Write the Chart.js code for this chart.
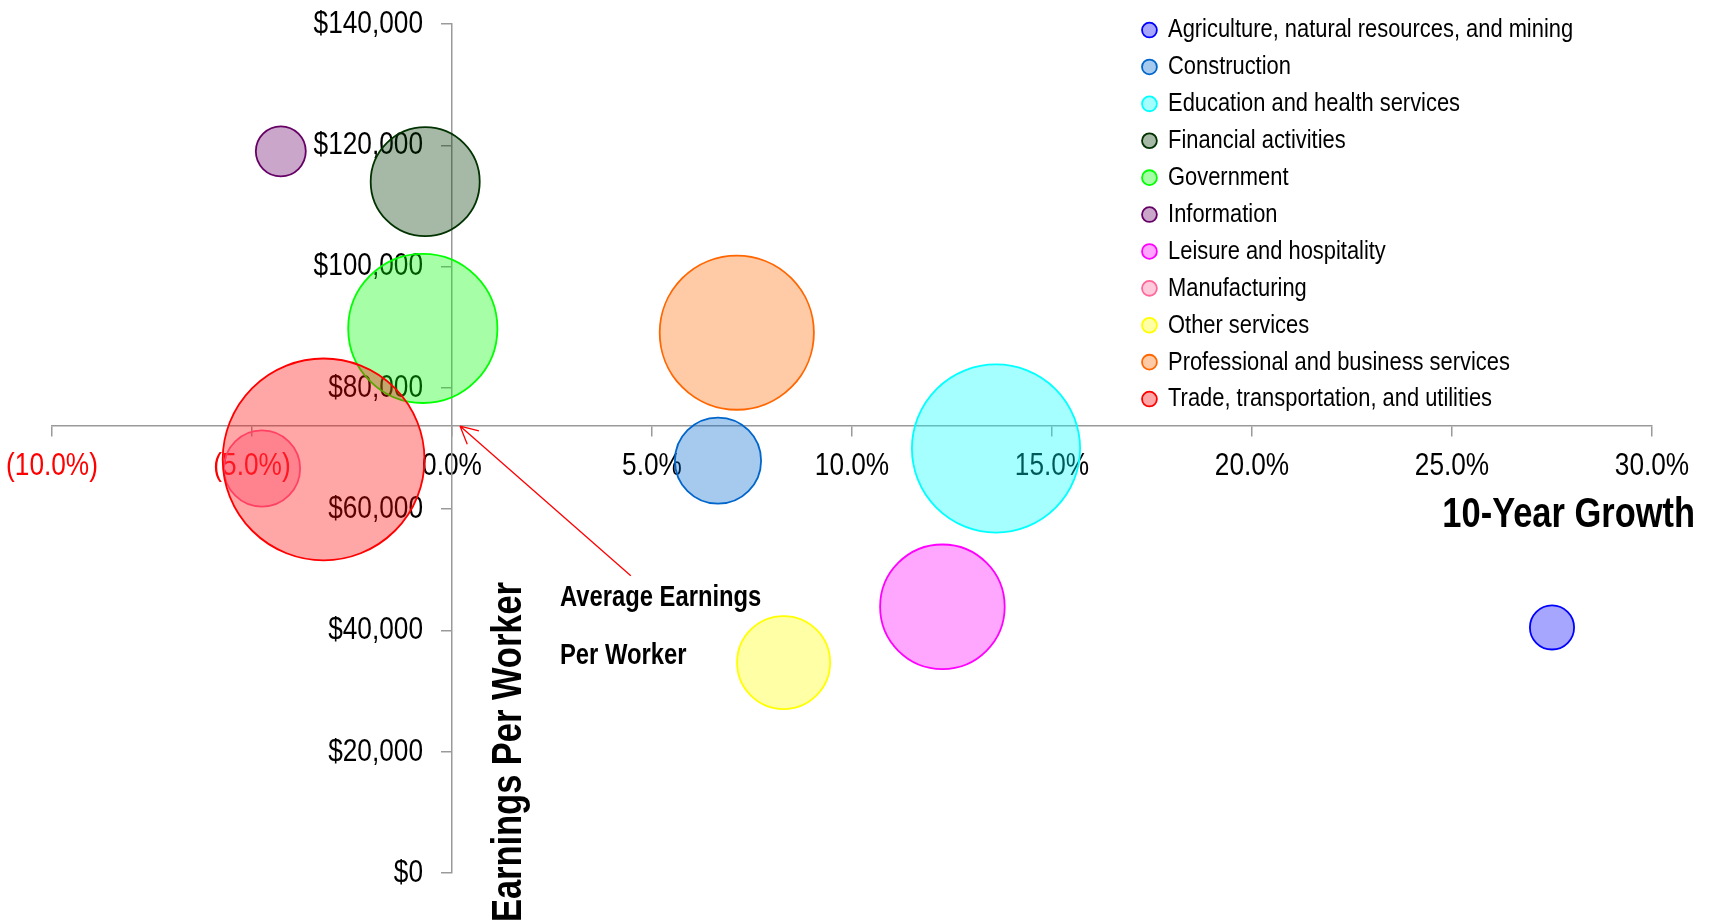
<!DOCTYPE html>
<html>
<head>
<meta charset="utf-8">
<script src="https://cdn.jsdelivr.net/npm/chart.js@4.4.0/dist/chart.umd.min.js"></script>
<style>
  html, body { margin: 0; padding: 0; background: #fff; overflow: hidden; }
  #wrap { width: 1711px; height: 920px; }
</style>
</head>
<body>
<div id="wrap"><canvas id="bubbleChart"></canvas></div>
<script>
// industries, 10-year growth (%), earnings per worker ($), employment (thousands, bubble size)
const industries = [
  'Agriculture, natural resources, and mining',
  'Construction',
  'Education and health services',
  'Financial activities',
  'Government',
  'Information',
  'Leisure and hospitality',
  'Manufacturing',
  'Other services',
  'Professional and business services',
  'Trade, transportation, and utilities'
];
const growth = [27.5, 6.65, 13.6, -0.67, -0.73, -4.28, 12.26, -4.75, 8.29, 7.12, -3.21];
const earnings = [40500, 68000, 70000, 114000, 89800, 119000, 43900, 66700, 34700, 89100, 68200];
const employment = [122, 464, 1768, 743, 1391, 156, 970, 363, 541, 1486, 2545];
const avgEarnings = 73700;

const xTicks = [-10, -5, 0, 5, 10, 15, 20, 25, 30];
const yTicks = [0, 20000, 40000, 60000, 80000, 100000, 120000, 140000];

const lineColors = ['#0000FF', '#0066CC', '#00FFFF', '#003300', '#00FF00', '#660066',
                    '#FF00FF', '#FF6699', '#FFFF00', '#FF6600', '#FF0000'];

const FONT = '"Liberation Sans", Arial, sans-serif';

// the original uses a narrow face; squeeze Liberation Sans to Arial Narrow proportions
const NARROW = 0.82;
const proto = CanvasRenderingContext2D.prototype;
const baseFill = proto.fillText;
const baseMeasure = proto.measureText;
proto.fillText = function (text, x, y, maxWidth) {
  this.save();
  this.translate(x, y);
  this.scale(NARROW, 1);
  if (maxWidth === undefined) baseFill.call(this, text, 0, 0);
  else baseFill.call(this, text, 0, 0, maxWidth / NARROW);
  this.restore();
};
proto.measureText = function (text) {
  const m = baseMeasure.call(this, text);
  return {
    width: m.width * NARROW,
    actualBoundingBoxLeft: m.actualBoundingBoxLeft * NARROW,
    actualBoundingBoxRight: m.actualBoundingBoxRight * NARROW,
    actualBoundingBoxAscent: m.actualBoundingBoxAscent,
    actualBoundingBoxDescent: m.actualBoundingBoxDescent,
    fontBoundingBoxAscent: m.fontBoundingBoxAscent,
    fontBoundingBoxDescent: m.fontBoundingBoxDescent
  };
};

const tint = (hex, a) => {
  const n = parseInt(hex.slice(1), 16);
  return `rgba(${n >> 16}, ${(n >> 8) & 255}, ${n & 255}, ${a})`;
};

const datasets = industries.map((name, i) => ({
  label: name,
  data: [{ x: growth[i], y: earnings[i], r: Math.sqrt(employment[i]) * 2 }],
  backgroundColor: tint(lineColors[i], 0.35),
  borderColor: lineColors[i],
  borderWidth: 1.8,
  clip: false,
  order: -i
}));

const Y_LABEL_GAP = 29;  // tick + padding left of the crossing y axis
const X_LABEL_DROP = 5.5; // extra room under the crossing x axis

const overlay = {
  id: 'overlay',
  afterLayout(chart) {
    // legend sits inside the plot, top right
    const lg = chart.legend;
    const w = lg.width, h = lg.height;
    lg.left = 1134; lg.top = 6.5;
    lg.right = lg.left + w; lg.bottom = lg.top + h;
  },
  beforeDraw(chart) {
    // axes placed by value: nudge their labels (kept out of ticks.padding so it doesn't eat layout space)
    chart.scales.y.getLabelItems(chart.chartArea).forEach(it => {
      if (!it.shifted) { it.options.translation[0] -= Y_LABEL_GAP; it.shifted = true; }
    });
    chart.scales.x.getLabelItems(chart.chartArea).forEach(it => {
      if (!it.shifted) { it.options.translation[1] += X_LABEL_DROP; it.shifted = true; }
    });
  },
  afterDraw(chart) {
    const { ctx, scales: { x, y } } = chart;
    ctx.save();

    // arrow to the average earnings line
    const tipX = x.getPixelForValue(0.2), tipY = y.getPixelForValue(avgEarnings);
    const tailX = x.getPixelForValue(4.47), tailY = y.getPixelForValue(49000);
    const ang = Math.atan2(tailY - tipY, tailX - tipX);
    ctx.strokeStyle = '#FF0000';
    ctx.lineWidth = 1.3;
    ctx.beginPath();
    ctx.moveTo(tailX, tailY);
    ctx.lineTo(tipX, tipY);
    [-0.47, 0.47].forEach(d => {
      ctx.moveTo(tipX, tipY);
      ctx.lineTo(tipX + 19.5 * Math.cos(ang + d), tipY + 19.5 * Math.sin(ang + d));
    });
    ctx.stroke();

    ctx.fillStyle = '#000';
    ctx.textBaseline = 'middle';
    ctx.textAlign = 'left';
    ctx.font = `bold 29px ${FONT}`;
    const lx = x.getPixelForValue(2.7);
    ctx.fillText('Average Earnings', lx, y.getPixelForValue(45350));
    ctx.fillText('Per Worker', lx, y.getPixelForValue(35780));

    // axis titles
    ctx.font = `bold 42px ${FONT}`;
    ctx.textAlign = 'right';
    ctx.fillText('10-Year Growth', 1695, 515);

    ctx.translate(521, 582);
    ctx.rotate(-Math.PI / 2);
    ctx.textBaseline = 'alphabetic';
    ctx.textAlign = 'right';
    ctx.fillText('Earnings Per Worker', 0, 0);
    ctx.restore();
  }
};

const ctx = document.getElementById('bubbleChart').getContext('2d');
const bubbleChart = new Chart(ctx, {
  type: 'bubble',
  data: { datasets },
  plugins: [overlay],
  options: {
    responsive: true,
    maintainAspectRatio: false,
    animation: false,
    events: [],
    layout: { autoPadding: false, padding: { left: 52, right: 59, top: 24, bottom: 47 } },
    plugins: {
      tooltip: { enabled: false },
      legend: {
        position: 'chartArea',
        align: 'start',
        reverse: true,
        labels: {
          usePointStyle: true,
          pointStyle: 'circle',
          boxWidth: 10.5,
          boxHeight: 10.5,
          padding: 10.2,
          color: '#000',
          font: { family: FONT, size: 26.7 }
        }
      }
    },
    scales: {
      x: {
        type: 'linear',
        position: { y: avgEarnings },
        min: xTicks[0],
        max: xTicks[xTicks.length - 1],
        afterBuildTicks: s => { s.ticks = xTicks.map(v => ({ value: v })); },
        border: { color: '#9a9a9a', width: 1.5 },
        grid: { drawOnChartArea: false, tickLength: 10, color: '#9a9a9a', lineWidth: 1.5 },
        ticks: {
          padding: 5.5,
          maxRotation: 0,
          font: { family: FONT, size: 32 },
          color: c => (c.tick && c.tick.value < 0 ? '#FF0000' : '#000000'),
          callback: v => (v < 0 ? `(${Math.abs(v).toFixed(1)}%)` : `${v.toFixed(1)}%`)
        }
      },
      y: {
        type: 'linear',
        position: { x: 0 },
        min: yTicks[0],
        max: yTicks[yTicks.length - 1],
        afterBuildTicks: s => { s.ticks = yTicks.map(v => ({ value: v })); },
        border: { color: '#9a9a9a', width: 1.5 },
        grid: { drawOnChartArea: false, tickLength: 10, color: '#9a9a9a', lineWidth: 1.5 },
        ticks: {
          padding: 0,
          font: { family: FONT, size: 32 },
          color: '#000',
          callback: v => '$' + v.toLocaleString('en-US')
        }
      }
    }
  }
});
</script>
</body>
</html>
